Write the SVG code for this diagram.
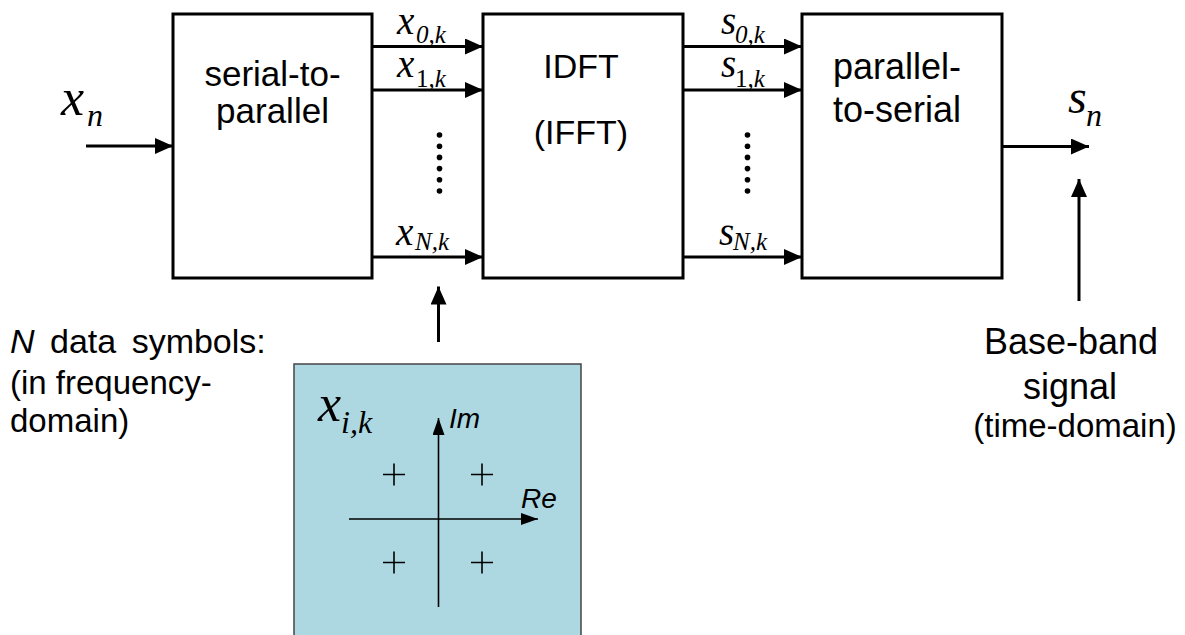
<svg xmlns="http://www.w3.org/2000/svg" width="1185" height="635" viewBox="0 0 1185 635">
<style>
.box{fill:#fff;stroke:#000;stroke-width:3}
.sans{font-family:"Liberation Sans",Arial,sans-serif;fill:#000}
.mt{font-family:"Liberation Serif","Times New Roman",serif;font-style:italic;fill:#000}
.up{font-style:normal}
.ln{stroke:#000;stroke-width:3;fill:none}
.thin{stroke:#000;stroke-width:1.6;fill:none}
</style>
<defs>
<marker id="ah" markerUnits="userSpaceOnUse" markerWidth="18" markerHeight="16" refX="18" refY="8" orient="auto"><path d="M0,0 L18,8 L0,16 Z" fill="#000"/></marker>
<marker id="as" markerUnits="userSpaceOnUse" markerWidth="17" markerHeight="12" refX="17" refY="6" orient="auto"><path d="M0,0 L17,6 L0,12 Z" fill="#000"/></marker>
</defs>
<rect width="1185" height="635" fill="#fff"/>
<g id="s2p">
<rect class="box" x="173" y="14" width="199" height="264"/>
<text class="sans" font-size="35" text-anchor="middle" x="272.5" y="86">serial-to-</text>
<text class="sans" font-size="35" text-anchor="middle" x="272.5" y="123">parallel</text>
</g>
<g id="idft">
<rect class="box" x="483" y="14" width="200" height="264"/>
<text class="sans" font-size="34" text-anchor="middle" x="581" y="78">IDFT</text>
<text class="sans" font-size="34" text-anchor="middle" x="581" y="144">(IFFT)</text>
</g>
<g id="p2s">
<rect class="box" x="802" y="14" width="200" height="264"/>
<text class="sans" font-size="36" x="833" y="79">parallel-</text>
<text class="sans" font-size="36" x="833" y="122">to-serial</text>
</g>
<g id="constellation">
<rect x="294" y="364" width="287" height="275" fill="#ADD8E2" stroke="#444" stroke-width="1.5"/>
<line class="thin" x1="438.5" y1="607" x2="438.5" y2="418" marker-end="url(#as)"/>
<line class="thin" x1="349" y1="519" x2="538" y2="519" marker-end="url(#as)"/>
<path class="thin" d="M383,474.5h22M394,463.5v22M471,474.5h22M482,463.5v22M383,562.5h22M394,551.5v22M471,562.5h22M482,551.5v22"/>
<text class="sans" font-size="28" font-style="italic" x="449" y="428">Im</text>
<text class="sans" font-size="28" font-style="italic" x="521" y="508">Re</text>
<text class="mt" font-size="52" x="318" y="421">x</text>
<text class="mt" font-size="32" x="341" y="433">i,k</text>
</g>
<g id="labels">
<text class="mt" font-size="52" x="61" y="115">x</text>
<text class="mt" font-size="32" x="87" y="126">n</text>
<text class="mt" font-size="48" x="1068" y="113">s</text>
<text class="mt" font-size="32" x="1086" y="126">n</text>
<text class="mt" font-size="39" x="397" y="34">x</text>
<text class="mt" font-size="25" x="416" y="43">0,k</text>
<text class="mt" font-size="39" x="397" y="77">x</text>
<text class="mt" font-size="25" x="416" y="87"><tspan class="up">1</tspan>,k</text>
<text class="mt" font-size="39" x="396" y="245">x</text>
<text class="mt" font-size="25" x="415" y="250">N,k</text>
<text class="mt" font-size="39" x="721" y="34">s</text>
<text class="mt" font-size="25" x="735" y="43">0,k</text>
<text class="mt" font-size="39" x="721" y="77">s</text>
<text class="mt" font-size="25" x="735" y="87"><tspan class="up">1</tspan>,k</text>
<text class="mt" font-size="39" x="719" y="245">s</text>
<text class="mt" font-size="25" x="733" y="250">N,k</text>
<text class="sans" font-size="34" x="10" y="353" word-spacing="6"><tspan font-style="italic">N</tspan> data symbols:</text>
<text class="sans" font-size="33" x="10" y="394">(in frequency-</text>
<text class="sans" font-size="33" x="10" y="432">domain)</text>
<text class="sans" font-size="36" text-anchor="middle" x="1071" y="354">Base-band</text>
<text class="sans" font-size="36" text-anchor="middle" x="1070" y="399">signal</text>
<text class="sans" font-size="33" text-anchor="middle" x="1075" y="437">(time-domain)</text>
</g>
<g id="connectors">
<line class="ln" x1="86" y1="146" x2="173" y2="146" marker-end="url(#ah)"/>
<line class="ln" x1="372" y1="46.5" x2="483" y2="46.5" marker-end="url(#ah)"/>
<line class="ln" x1="372" y1="90" x2="483" y2="90" marker-end="url(#ah)"/>
<line class="ln" x1="372" y1="257" x2="483" y2="257" marker-end="url(#ah)"/>
<line class="ln" x1="683" y1="46.5" x2="802" y2="46.5" marker-end="url(#ah)"/>
<line class="ln" x1="683" y1="90" x2="802" y2="90" marker-end="url(#ah)"/>
<line class="ln" x1="683" y1="257" x2="802" y2="257" marker-end="url(#ah)"/>
<line class="ln" x1="1002" y1="146.5" x2="1089" y2="146.5" marker-end="url(#ah)"/>
<line class="ln" x1="1079" y1="301" x2="1079" y2="179" marker-end="url(#ah)"/>
<line class="ln" x1="438.5" y1="342" x2="438.5" y2="286.5" marker-end="url(#ah)"/>
<g fill="#000">
<circle cx="439.5" cy="135" r="2.8"/><circle cx="439.5" cy="146.2" r="2.8"/><circle cx="439.5" cy="157.4" r="2.8"/><circle cx="439.5" cy="168.6" r="2.8"/><circle cx="439.5" cy="179.8" r="2.8"/><circle cx="439.5" cy="191" r="2.8"/>
<circle cx="747.5" cy="135" r="2.8"/><circle cx="747.5" cy="146.2" r="2.8"/><circle cx="747.5" cy="157.4" r="2.8"/><circle cx="747.5" cy="168.6" r="2.8"/><circle cx="747.5" cy="179.8" r="2.8"/><circle cx="747.5" cy="191" r="2.8"/>
</g>
</g>
</svg>
